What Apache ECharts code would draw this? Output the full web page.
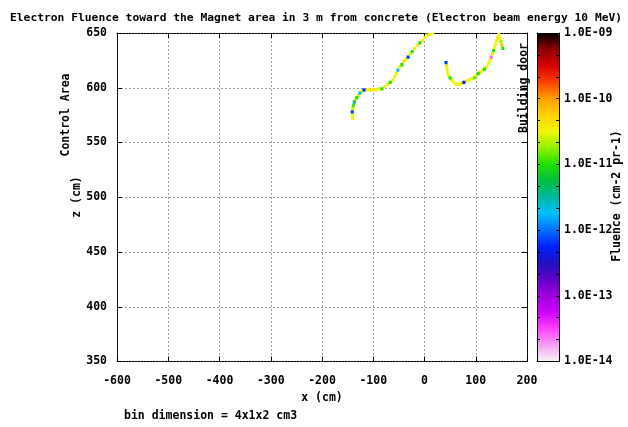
<!DOCTYPE html>
<html>
<head>
<meta charset="utf-8">
<script src="https://cdn.jsdelivr.net/npm/echarts@6/dist/echarts.min.js"></script>
<style>
  html, body { margin: 0; padding: 0; background: #fff; }
  #chart { width: 628px; height: 427px; }
</style>
</head>
<body>
<div id="chart"></div>
<script>
// Scored fluence cells along the two tracks (x, z in cm; fluence in cm-2 per primary)
const curveA_x = [-140, -141, -141, -140, -139, -137, -135, -132, -129, -126, -122, -118, -113, -107, -101, -95, -89, -83, -77, -72, -67, -62, -58, -55, -52, -48, -44, -40, -36, -32, -28, -24, -19, -14, -9, -4, 1, 6, 11, 16];
const curveA_z = [572, 575, 578, 581, 584, 587, 589, 591, 593, 595, 597, 598, 598, 598, 598, 598, 599, 599, 601, 603, 605, 607, 610, 613, 616, 619, 621, 624, 626, 628, 631, 633, 636, 639, 641, 643, 646, 648, 649, 650];
const curveA_f = [3.5e-11, 3e-11, 7e-13, 2.5e-11, 1.2e-11, 4e-12, 3e-11, 1e-11, 3.5e-11, 2e-12, 3e-11, 6e-13, 3.5e-11, 3.5e-11, 4e-11, 3.5e-11, 3.5e-11, 1e-11, 3e-11, 3.5e-11, 1e-11, 3.5e-11, 3e-11, 3.5e-11, 2e-12, 3e-11, 1e-11, 3.5e-11, 3e-11, 7e-13, 3.5e-11, 1e-11, 3.5e-11, 3e-11, 1e-11, 3.5e-11, 3e-11, 3.5e-11, 3e-11, 3.5e-11];

const curveB_x = [42, 43, 44, 45, 47, 50, 53, 57, 62, 67, 72, 77, 82, 87, 92, 97, 101, 105, 109, 113, 117, 121, 125, 128, 130, 133, 135, 137, 139, 141, 143, 145, 147, 149, 151, 153];
const curveB_z = [623, 620, 617, 614, 611, 609, 607, 605, 603, 603, 604, 605, 606, 607, 608, 609, 611, 613, 614, 616, 617, 619, 622, 625, 628, 631, 634, 637, 640, 643, 646, 649, 645, 642, 639, 636];
const curveB_f = [7e-13, 3.5e-11, 3e-11, 3.5e-11, 3e-11, 1e-11, 3e-11, 3.5e-11, 3.5e-11, 3e-11, 3.5e-11, 5e-13, 3.5e-11, 3e-11, 3.5e-11, 1.5e-11, 3.5e-11, 1e-11, 3.5e-11, 3e-11, 1e-11, 3.5e-11, 3e-11, 3.5e-11, 2.5e-14, 3.5e-11, 1e-11, 3.5e-11, 3e-11, 3.5e-11, 4e-11, 3.5e-11, 3e-11, 2e-11, 7e-11, 1e-11];

// Colour-bar decade labels, bottom to top
const colorbarLabels = ['1.0E-14', '1.0E-13', '1.0E-12', '1.0E-11', '1.0E-10', '1.0E-09'];

// Palette from 1e-14 (bottom) to 1e-9 (top), quarter-decade steps
const palette = ['#f8f4f8', '#f4a0f4', '#ff40ff', '#d000ff', '#a000e0', '#6000c8', '#2010c0', '#0020ff', '#0070ff', '#00c0ff', '#00b8a0', '#00c040', '#20e000', '#90f000', '#f0f800', '#ffd000', '#ffa000', '#ff4000', '#d80000', '#900000', '#000000'];

const cells = [];
curveA_x.forEach((x, i) => cells.push([x, curveA_z[i], Math.log10(curveA_f[i])]));
curveB_x.forEach((x, i) => cells.push([x, curveB_z[i], Math.log10(curveB_f[i])]));

const FONT = 'DejaVu Sans Mono';
const LABEL_FONT = 'bold 11.5px "DejaVu Sans Mono"';
const txt = { fontFamily: FONT, fontWeight: 'bold', fontSize: 11.5, color: '#000' };
const frame = { show: true, onZero: false, lineStyle: { color: '#000', width: 1, type: [2, 1] } };
const plain = { show: true, onZero: false, lineStyle: { color: '#000', width: 1 } };
const ticks = { show: true, inside: true, length: 5, lineStyle: { color: '#000' } };
const grid0 = { color: '#a0a0a0', type: [2, 2] };

const chart = echarts.init(document.getElementById('chart'), null, { renderer: 'canvas' });

chart.setOption({
  animation: false,
  backgroundColor: '#fff',
  title: {
    text: 'Electron Fluence toward the Magnet area in 3 m from concrete (Electron beam energy 10 MeV)',
    left: 5, top: 8,
    textStyle: Object.assign({}, txt, { fontSize: 11.3 })
  },
  grid: [
    { left: 117, top: 33, width: 410, height: 328.5 },
    { left: 537, top: 33, width: 22, height: 328.5 }
  ],
  xAxis: [
    { gridIndex: 0, type: 'value', min: -600, max: 200, interval: 100, position: 'bottom',
      axisLine: frame, axisTick: ticks,
      axisLabel: Object.assign({ margin: 14 }, txt),
      splitLine: { show: true, lineStyle: grid0 },
      name: 'x (cm)', nameLocation: 'middle', nameGap: 31, nameTextStyle: Object.assign({}, txt) },
    { gridIndex: 0, type: 'value', min: -600, max: 200, interval: 100, position: 'top',
      axisLine: frame, axisTick: ticks, axisLabel: { show: false }, splitLine: { show: false } },
    { gridIndex: 1, type: 'value', min: 0, max: 1, position: 'bottom',
      axisLine: plain, axisTick: { show: false },
      axisLabel: { show: false }, splitLine: { show: false }, z: 10 },
    { gridIndex: 1, type: 'value', min: 0, max: 1, position: 'top',
      axisLine: plain, axisTick: { show: false },
      axisLabel: { show: false }, splitLine: { show: false }, z: 10 }
  ],
  yAxis: [
    { gridIndex: 0, type: 'value', min: 350, max: 650, interval: 50, position: 'left',
      axisLine: frame, axisTick: ticks,
      axisLabel: Object.assign({ margin: 10 }, txt),
      splitLine: { show: true, lineStyle: grid0 } },
    { gridIndex: 0, type: 'value', min: 350, max: 650, interval: 50, position: 'right',
      axisLine: frame, axisTick: ticks, axisLabel: { show: false }, splitLine: { show: false } },
    // colour bar: one tick every third of a decade (axis unit = 1/3 decade)
    { gridIndex: 1, type: 'value', min: -42, max: -27, interval: 1, position: 'left',
      axisLine: plain,
      axisTick: { show: true, inside: true, length: 3, lineStyle: { color: '#000' } },
      axisLabel: { show: false }, splitLine: { show: false }, z: 10 },
    { gridIndex: 1, type: 'value', min: -42, max: -27, interval: 1, position: 'right',
      axisLine: plain,
      axisTick: { show: true, inside: true, length: 3, lineStyle: { color: '#000' } },
      axisLabel: Object.assign({
        margin: 5,
        formatter: v => (Math.round(v) % 3 === 0 ? colorbarLabels[(Math.round(v) + 42) / 3] : '')
      }, txt),
      splitLine: { show: false }, z: 10 }
  ],
  visualMap: {
    type: 'continuous', min: -14, max: -9, dimension: 2, seriesIndex: 0,
    left: 537, top: 33, itemWidth: 22, itemHeight: 328.5, padding: 0,
    calculable: false, text: null, hoverLink: false,
    inRange: { color: palette }
  },
  series: [{
    type: 'custom',
    coordinateSystem: 'cartesian2d',
    xAxisIndex: 0, yAxisIndex: 0,
    clip: true,
    data: cells,
    renderItem: function (params, api) {
      const c = api.coord([api.value(0), api.value(1)]);
      const s = api.size([6, 3]);
      return {
        type: 'rect',
        shape: { x: c[0] - s[0] / 2, y: c[1] - s[1] / 2, width: s[0], height: s[1] },
        style: { fill: api.visual('color') },
        z2: api.value(2) < -10.8 ? 5 : 1
      };
    }
  }],
  graphic: [
    { type: 'text', x: 77, y: 197, rotation: Math.PI / 2,
      style: { text: 'z (cm)', font: LABEL_FONT, fill: '#000', textAlign: 'center', textVerticalAlign: 'middle' } },
    { type: 'text', x: 66, y: 115, rotation: Math.PI / 2,
      style: { text: 'Control Area', font: LABEL_FONT, fill: '#000', textAlign: 'center', textVerticalAlign: 'middle' } },
    { type: 'text', x: 524, y: 88, rotation: Math.PI / 2, z: 20,
      style: { text: 'Building door', font: LABEL_FONT, fill: '#000', textAlign: 'center', textVerticalAlign: 'middle' } },
    { type: 'text', x: 617, y: 196, rotation: Math.PI / 2,
      style: { text: 'Fluence (cm-2 pr-1)', font: LABEL_FONT, fill: '#000', textAlign: 'center', textVerticalAlign: 'middle' } },
    { type: 'text', x: 124, y: 416,
      style: { text: 'bin dimension = 4x1x2 cm3', font: LABEL_FONT, fill: '#000', textAlign: 'left', textVerticalAlign: 'middle' } }
  ]
});
</script>
</body>
</html>
